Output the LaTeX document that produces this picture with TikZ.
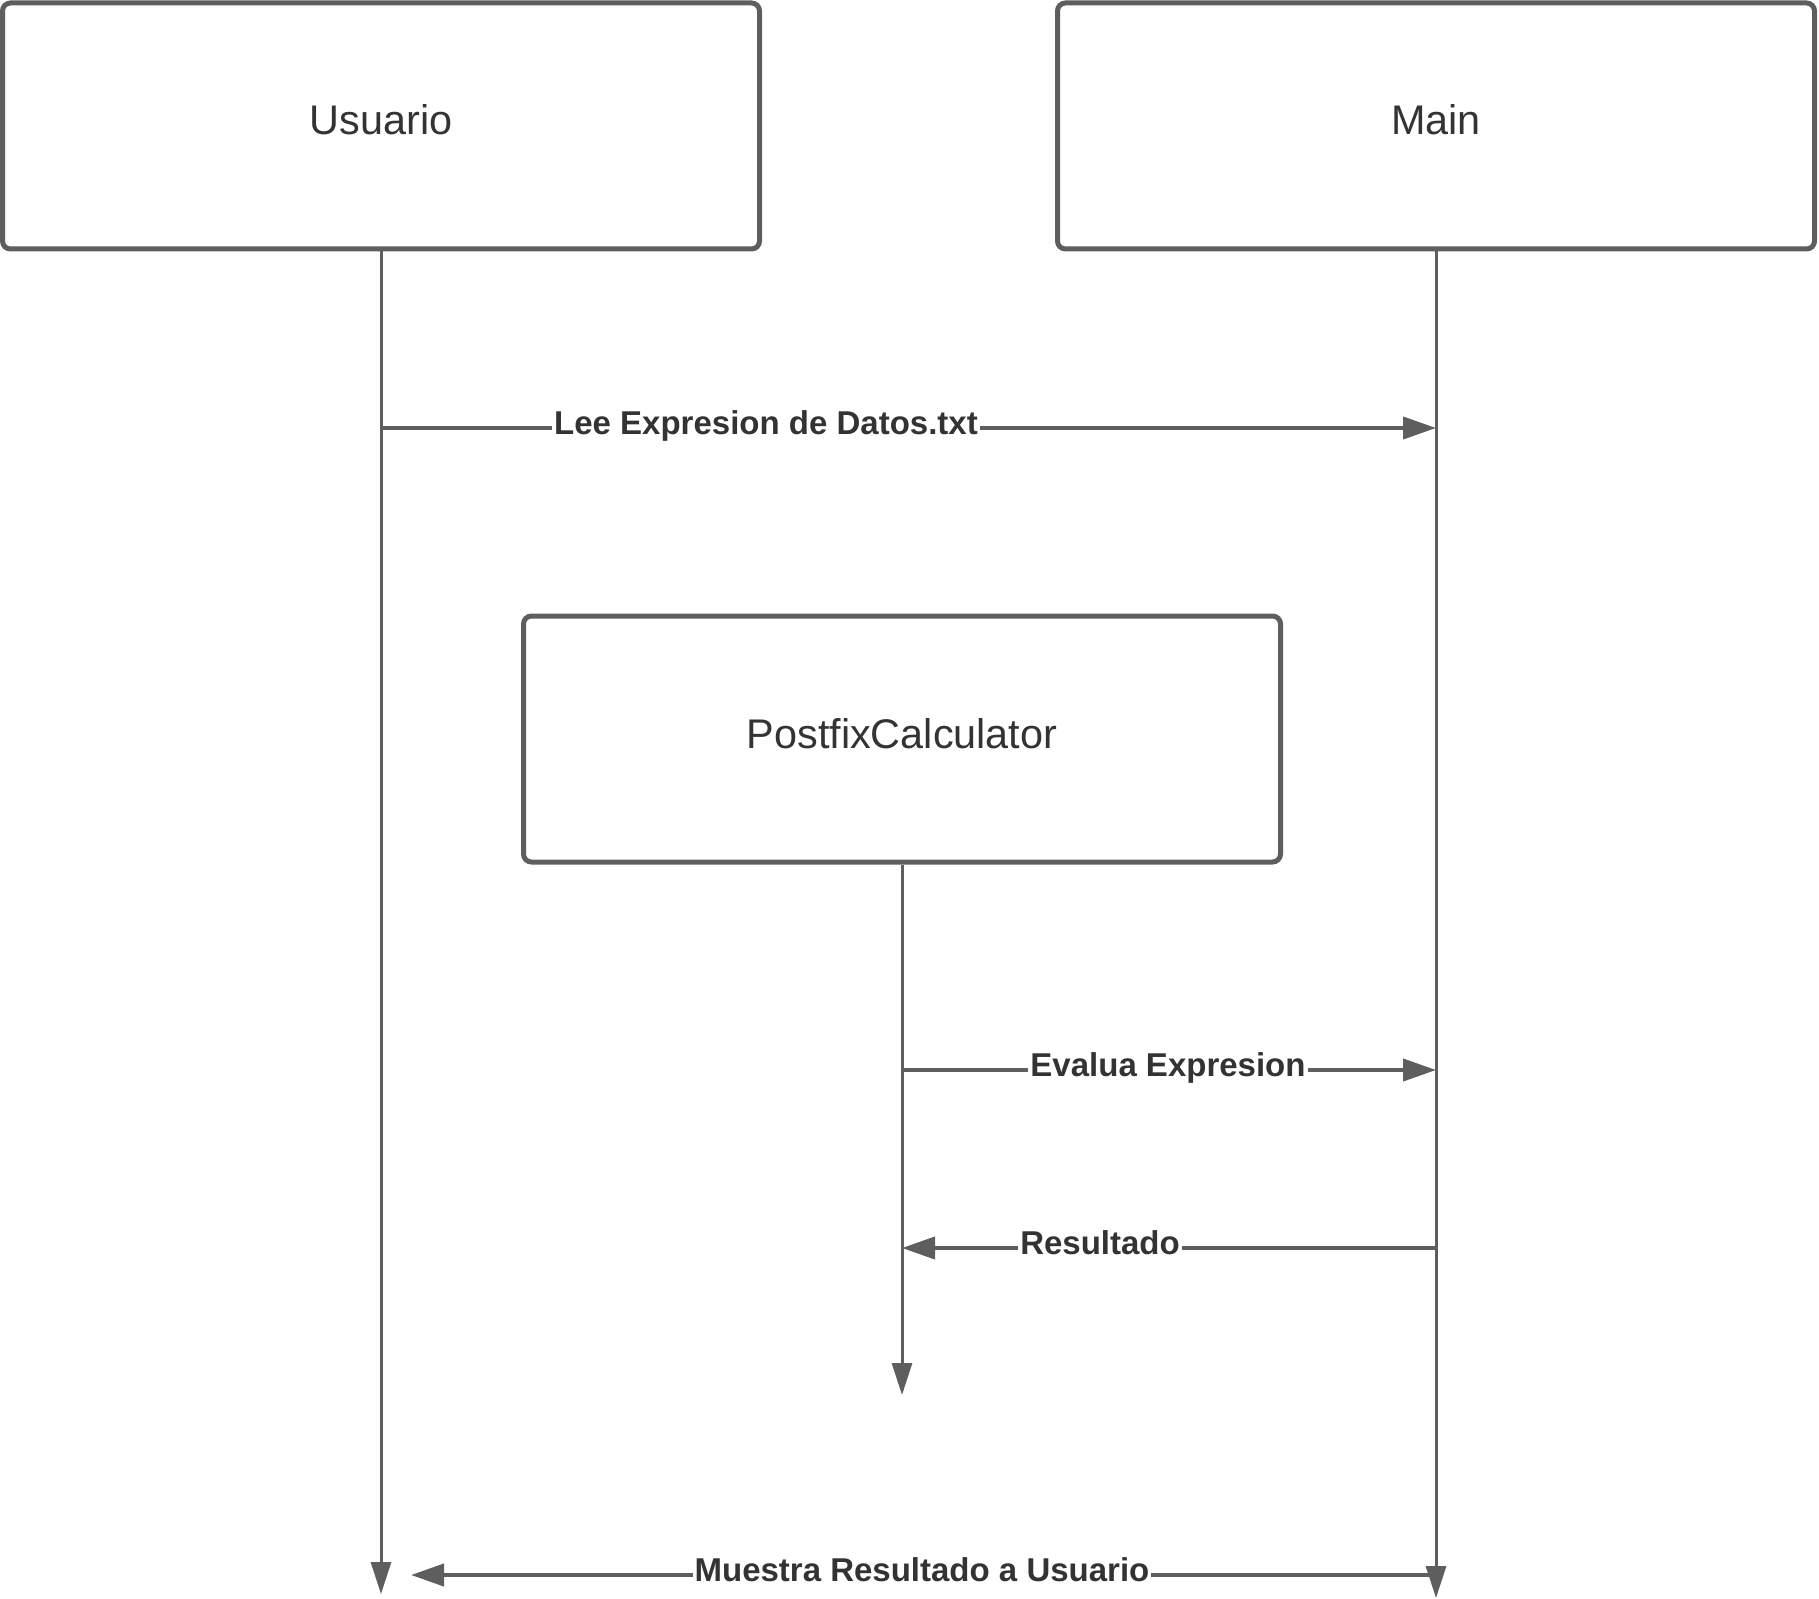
\documentclass[tikz,border=0pt]{standalone}
\usepackage{fontspec}
\setmainfont{Liberation Sans}
\usetikzlibrary{arrows.meta}
\definecolor{edge}{HTML}{5E5E5E}
\definecolor{ink}{HTML}{333333}
\begin{document}
\begin{tikzpicture}[x=0.5pt,y=-0.5pt,
  actor/.style={draw=edge, line width=2.5pt, rounded corners=4pt, fill=white,
    minimum width=378.5pt, minimum height=123pt, inner sep=0pt,
    text height=15pt, text depth=6pt, text=ink,
    font=\fontsize{20.7}{24}\selectfont},
  lifeline/.style={draw=edge, line width=1.5pt,
    -{Triangle[length=16pt,width=10pt]}},
  msg/.style={draw=edge, line width=2pt,
    -{Triangle[length=16.5pt,width=11pt]}},
  msglabel/.style={anchor=base, fill=white, inner sep=1pt, text=ink,
    font=\bfseries\fontsize{16.5}{20}\selectfont}]
  \useasboundingbox (0,0) rectangle (1819,1599);

  % participants
  \node[actor] (usr)  at (381,126)  {Usuario};
  \node[actor] (main) at (1436,126) {Main};
  \node[actor] (calc) at (902,739)  {PostfixCalculator};

  % lifeline ends
  \coordinate (usrEnd)  at (381,1594);
  \coordinate (mainEnd) at (1436,1598);
  \coordinate (calcEnd) at (902,1395);

  \draw[lifeline] (usr.south)  -- (usrEnd);
  \draw[lifeline] (main.south) -- (mainEnd);
  \draw[lifeline] (calc.south) -- (calcEnd);

  % message anchor points on the lifelines
  \coordinate (u1) at (381,428);
  \coordinate (m1) at (1436,428);
  \coordinate (c2) at (902,1070);
  \coordinate (m2) at (1436,1070);
  \coordinate (m3) at (1436,1248);
  \coordinate (c3) at (902,1248);
  \coordinate (m4) at (1436,1575);
  \coordinate (u4) at (411,1575);

  % messages
  \draw[msg] (u1) -- (m1);
  \draw[msg] (c2) -- (m2);
  \draw[msg] (m3) -- (c3);
  \draw[msg] (m4) -- (u4);

  \node[msglabel] (l1) at (766,434)  {Lee Expresion de Datos.txt};
  \node[msglabel] (l2) at (1168,1076) {Evalua Expresion};
  \node[msglabel] (l3) at (1100,1254) {Resultado};
  \node[msglabel] (l4) at (922,1581) {Muestra Resultado a Usuario};
\end{tikzpicture}
\end{document}
